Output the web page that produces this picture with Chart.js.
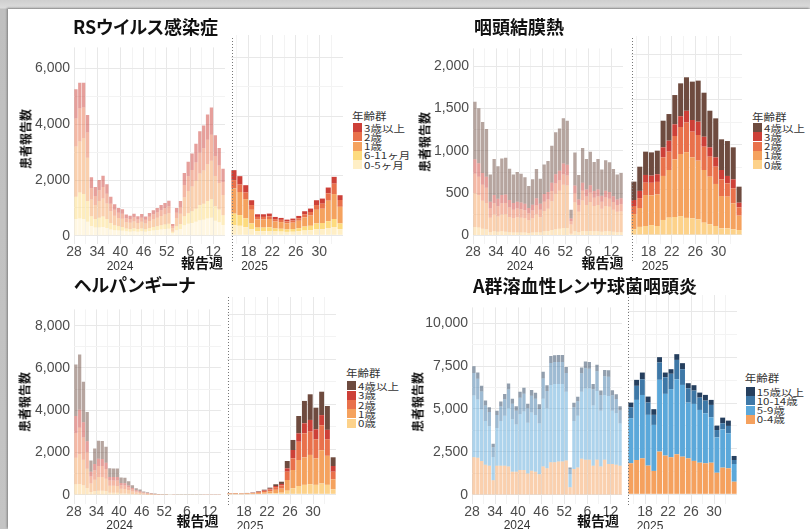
<!DOCTYPE html>
<html lang="ja">
<head>
<meta charset="utf-8">
<title>報告週別・年齢群別 患者報告数</title>
<script src="https://cdn.jsdelivr.net/npm/chart.js@4.4.1/dist/chart.umd.min.js"></script>
<style>
  html, body { margin: 0; padding: 0; }
  body { width: 810px; height: 529px; overflow: hidden; position: relative;
         background: linear-gradient(to bottom, #cfcfcf 0px, #dcdcdc 8px, #bfbfbf 9px, #c4c4c4 100%); }
  #sheet { position: absolute; left: 8px; top: 9px; right: 0; bottom: 0; background: #fff;
           box-shadow: -1px -1px 2px rgba(0,0,0,0.35); }
  canvas { position: absolute; }
  .txt { position: absolute; white-space: nowrap; line-height: 1; }
  .title { font: bold 18px "Noto Sans CJK JP", sans-serif; color: #111; font-feature-settings: "palt"; }
  .ytitle { font: bold 12px "Noto Sans CJK JP", sans-serif; color: #111; }
  .xtitle { font: bold 14px "Noto Sans CJK JP", sans-serif; color: #111; }
  .year { font: 12px "Liberation Sans", Arial, sans-serif; color: #333; }
  .lgtitle { font: 11.5px "Noto Sans CJK JP", sans-serif; color: #333; }
  .lglabel { font: 11.5px "Noto Sans CJK JP", sans-serif; color: #333; }
  .lgbox { position: absolute; width: 9px; height: 9px; }
  .vsep { position: absolute; width: 1px; z-index: 5;
          background: repeating-linear-gradient(to bottom, #777 0px, #777 1px, transparent 1px, transparent 3px); }
</style>
</head>
<body>
<div id="sheet"></div>
<script>
// ---- report weeks ----
const weeksPrev = [28,29,30,31,32,33,34,35,36,37,38,39,40,41,42,43,44,45,46,47,48,49,50,51,52,
                   1,2,3,4,5,6,7,8,9,10,11,12,13,14];
const weeksCur = [15,16,17,18,19,20,21,22,23,24,25,26,27,28,29,30,31,32,33];
const prevTickWeeks = [28,34,40,46,52,6,12];
const prevMinorWeeks = [31,37,43,49,3,9];
const curTickWeeks = [18,22,26,30];
const curMinorWeeks = [16,20,24,28,32];

// ---- RSウイルス感染症 ----
const rsGroups = ['0-5ヶ月','6-11ヶ月','1歳','2歳','3歳以上'];
const rsPrev0to5m  = [600,620,600,500,350,300,300,320,280,230,200,190,180,160,150,165,150,160,145,170,190,205,225,240,250,90,200,240,380,430,460,500,560,580,620,650,540,490,390];
const rsPrev6to11m = [800,930,900,750,350,300,350,370,320,230,180,150,140,100,95,105,90,100,90,110,125,140,155,165,180,60,140,180,320,380,420,470,540,570,630,660,520,450,350];
const rsPrev1y     = [1800,1830,2000,1550,600,500,600,650,560,420,340,300,290,230,220,240,215,240,210,250,280,300,330,355,380,125,300,370,680,800,890,1000,1130,1190,1310,1380,1080,950,720];
const rsPrev2y     = [1000,1180,1100,900,400,330,380,410,350,270,210,190,180,140,135,150,130,150,130,155,175,190,210,225,240,80,190,240,440,520,590,660,750,800,880,930,720,630,470];
const rsPrev3plus  = [1050,920,880,630,400,320,370,400,340,250,200,170,160,130,120,130,115,130,115,135,150,165,180,195,210,65,170,220,430,520,590,670,770,810,910,980,740,630,470];
const rsCur0to5m   = [340,320,270,200,140,140,145,130,125,115,120,135,160,170,200,205,245,280,210];
const rsCur6to11m  = [390,360,300,200,120,120,125,100,95,85,90,105,135,150,200,210,230,270,190];
const rsCur1y      = [850,780,650,460,270,270,280,235,225,200,215,250,310,345,460,480,690,840,560];
const rsCur2y      = [280,250,220,160,90,90,92,80,75,68,72,85,105,120,160,170,250,350,230];
const rsCur3plus   = [336,283,249,162,89,89,90,74,66,61,66,78,101,116,162,173,195,230,161];

// ---- 咽頭結膜熱 ----
const ageGroups5 = ['0歳','1歳','2歳','3歳','4歳以上'];
const pcfPrev0y    = [100,95,80,75,40,50,45,50,45,40,35,35,35,35,30,35,40,35,50,55,65,75,80,90,90,20,50,40,55,50,55,50,50,45,50,50,45,40,40];
const pcfPrev1y    = [400,380,330,310,170,200,180,200,210,180,170,180,175,170,150,170,210,180,240,260,340,420,450,510,500,110,340,240,360,310,340,300,310,270,300,290,260,240,245];
const pcfPrev2y    = [230,220,190,180,110,130,120,130,130,110,100,105,100,95,80,90,105,90,110,110,120,120,120,120,120,40,110,80,115,100,110,95,100,85,100,95,90,80,85];
const pcfPrev3y    = [170,160,140,130,80,100,90,100,100,90,80,80,80,75,65,70,85,70,90,90,100,110,115,130,125,30,90,65,95,85,90,80,85,70,80,80,70,65,70];
const pcfPrev4plus = [680,650,600,565,320,425,385,430,435,370,335,350,340,315,260,300,345,295,350,365,435,495,500,535,520,105,390,290,410,360,395,345,360,310,360,350,320,295,300];
const pcfCur0y     = [63,90,100,110,100,167,193,200,210,190,185,174,137,119,100,74,74,63,55];
const pcfCur1y     = [170,210,344,330,350,489,529,640,690,730,678,652,585,529,467,359,352,289,160];
const pcfCur2y     = [89,110,137,140,140,207,204,260,300,330,285,285,259,222,192,186,148,167,92];
const pcfCur3y     = [67,80,86,80,85,111,122,130,120,130,130,148,111,104,104,103,82,100,52];
const pcfCur4plus  = [204,269,259,258,262,296,296,325,365,372,426,456,489,407,433,341,388,355,178];

// ---- ヘルパンギーナ ----
const hpPrev0y     = [500,520,460,330,140,180,200,200,180,100,100,95,65,65,50,40,25,20,15,10,8,5,4,3,2,1,2,1,1,1,1,1,1,1,2,2,2,2,2];
const hpPrev1y     = [1250,1400,1200,900,400,540,640,640,580,330,330,330,220,215,175,125,85,70,45,35,25,17,11,8,7,3,5,5,4,4,4,4,4,5,5,6,6,5,6];
const hpPrev2y     = [1180,1250,1050,780,330,450,530,520,460,250,250,255,165,165,130,95,65,50,35,25,18,13,8,6,5,3,4,3,3,3,3,3,3,3,4,4,4,4,4];
const hpPrev3y     = [800,850,720,520,220,290,340,340,300,170,160,165,110,105,85,60,40,35,20,15,12,8,5,4,3,2,2,2,2,2,2,2,2,2,2,3,2,2,2];
const hpPrev4plus  = [2430,2620,1920,1390,540,730,850,850,750,410,410,405,260,260,200,140,95,75,50,35,27,19,12,9,8,3,5,5,5,5,4,4,5,5,5,7,6,5,6];
const hpCur0y      = [7,8,7,9,12,20,28,40,55,70,160,270,370,420,450,420,480,420,222];
const hpCur1y      = [16,17,14,19,25,42,65,95,145,180,475,810,1155,1220,1300,1180,1480,1290,445];
const hpCur2y      = [12,14,11,15,20,35,55,80,120,150,370,520,810,1070,1035,845,1110,740,338];
const hpCur3y      = [6,6,5,7,10,16,25,35,50,60,150,370,375,445,520,445,450,415,254];
const hpCur4plus   = [9,10,8,10,13,22,32,45,75,100,325,445,770,995,1140,960,1040,1060,386];

// ---- A群溶血性レンサ球菌咽頭炎 ----
const gasGroups = ['0-4歳','5-9歳','10-14歳','15歳以上'];
const gasPrev0to4   = [2190,2160,1970,1750,1700,850,1700,1700,1700,1650,1350,1350,1450,1450,1250,1400,1350,1200,1650,1550,1900,1900,1950,1950,2000,450,1500,1600,2100,2050,2050,1700,2050,1650,2050,1800,1800,1750,1700];
const gasPrev5to9   = [3600,3400,3000,2550,2300,1350,2200,2600,2900,3400,3050,2750,3250,3400,2950,3400,3300,2950,3950,3500,4500,4550,4500,4500,4000,750,2800,3000,3900,4150,4150,3500,4000,3250,3750,3950,3100,3000,2450];
const gasPrev10to14 = [1300,1200,1050,900,820,570,750,850,970,1080,900,800,960,1040,850,970,950,850,1170,1000,1280,1280,1290,1280,1100,280,800,850,1080,1170,1150,950,1150,900,1100,1130,900,830,760];
const gasPrev15plus = [400,370,340,300,280,200,250,290,310,350,290,260,340,350,260,330,350,280,400,330,400,400,400,410,350,120,260,270,340,390,390,300,380,280,370,380,290,280,250];
const gasCur0to4    = [1700,1880,1970,1570,1280,2340,2120,2030,2190,2060,1970,1830,1730,1700,1730,1180,1460,1425,690];
const gasCur5to9    = [2470,3290,3470,2780,2520,3930,3380,3730,4110,3930,3050,3120,2890,2740,2490,1940,2100,1920,970];
const gasCur10to14  = [600,770,860,675,550,950,910,840,1060,860,790,730,675,690,675,400,330,400,220];
const gasCur15plus  = [253,328,368,327,312,290,258,252,315,332,275,295,275,314,275,241,309,290,220];

// ---- palettes (youngest group first, stacked from the bottom) ----
const rsColors   = ['#FFEFC6','#FDDB7E','#F5A25E','#E9714B','#CD4038'];
const age5Colors = ['#FDD28A','#F5A25E','#E9714B','#CD4038','#6E4B3F'];
const gasColors  = ['#F5A15E','#5BA8DA','#3E78A7','#253F5E'];

const GRID_MAJOR = '#e8e8e8';
const GRID_MINOR = '#f3f3f3';
const NONE = 'rgba(0,0,0,0)';
const NUM_FONT = '"Liberation Sans", Arial, sans-serif';
const TICK_COLOR = '#4d4d4d';
const X_AXIS_H = 20;
const Y_AXIS_W = 54;

function fade(hex, a) {
  const n = parseInt(hex.slice(1), 16);
  return `rgba(${n >> 16},${(n >> 8) & 255},${n & 255},${a})`;
}

function steps(to, step) {
  const out = [];
  for (let v = 0; v <= to + 1e-9; v += step) out.push(v);
  return out;
}

const panels = [
  {
    title: 'RSウイルス感染症', titleX: 73, titleY: 26,
    groups: rsGroups, colors: rsColors,
    top: 35, plotH: 209, yMin: -293, yMax: 6751, yStep: 1000, yMajor: 2000, yTop: 6000,
    prev: { left: 74, plotW: 151, series: [rsPrev0to5m, rsPrev6to11m, rsPrev1y, rsPrev2y, rsPrev3plus] },
    cur:  { left: 231, plotW: 112, series: [rsCur0to5m, rsCur6to11m, rsCur1y, rsCur2y, rsCur3plus] },
    yTitle: [24.5, 139], sep: [232, 38, 262],
    xLabels: { y2024: [120, 266], mid: [202, 262], y2025: [254.5, 266] },
    legend: { x: 353, titleY: 116, row0: 127.7, step: 9.2 }
  },
  {
    title: '咽頭結膜熱', titleX: 474, titleY: 26,
    groups: ageGroups5, colors: age5Colors,
    top: 36, plotH: 208, yMin: -100, yMax: 2211, yStep: 250, yMajor: 500, yTop: 2000,
    prev: { left: 473, plotW: 150, series: [pcfPrev0y, pcfPrev1y, pcfPrev2y, pcfPrev3y, pcfPrev4plus] },
    cur:  { left: 631, plotW: 111, series: [pcfCur0y, pcfCur1y, pcfCur2y, pcfCur3y, pcfCur4plus] },
    yTitle: [424, 141.5], sep: [631.5, 38, 262],
    xLabels: { y2024: [520, 266], mid: [602.5, 262], y2025: [655, 266] },
    legend: { x: 753, titleY: 117, row0: 127.7, step: 9.2 }
  },
  {
    title: 'ヘルパンギーナ', titleX: 74, titleY: 284,
    groups: ageGroups5, colors: age5Colors,
    top: 297, plotH: 207, yMin: -431, yMax: 8769, yStep: 1000, yMajor: 2000, yTop: 8000,
    prev: { left: 74, plotW: 147, series: [hpPrev0y, hpPrev1y, hpPrev2y, hpPrev3y, hpPrev4plus] },
    cur:  { left: 227, plotW: 109, series: [hpCur0y, hpCur1y, hpCur2y, hpCur3y, hpCur4plus] },
    yTitle: [24, 402], sep: [228, 297, 506],
    xLabels: { y2024: [119.7, 525], mid: [197.5, 520], y2025: [250, 525.5] },
    legend: { x: 347, titleY: 373.3, row0: 385.7, step: 9.4 }
  },
  {
    title: 'A群溶血性レンサ球菌咽頭炎', titleX: 473, titleY: 284.5,
    groups: gasGroups, colors: gasColors,
    top: 295, plotH: 209, yMin: -531, yMax: 10915, yStep: 1250, yMajor: 2500, yTop: 10000,
    prev: { left: 472, plotW: 150, series: [gasPrev0to4, gasPrev5to9, gasPrev10to14, gasPrev15plus] },
    cur:  { left: 628, plotW: 109, series: [gasCur0to4, gasCur5to9, gasCur10to14, gasCur15plus] },
    yTitle: [416.5, 402], sep: [628, 297, 506],
    xLabels: { y2024: [517, 525], mid: [598, 520], y2025: [650, 525.5] },
    legend: { x: 745.7, titleY: 378.3, row0: 391.7, step: 9.2 }
  }
];

function addText(text, cls, x, y, transform) {
  const d = document.createElement('div');
  d.className = 'txt ' + cls;
  d.textContent = text;
  d.style.left = x + 'px';
  d.style.top = y + 'px';
  d.style.transform = transform;
  document.body.appendChild(d);
  return d;
}

function makeBars(p, part, weeks, tickWeeks, minorWeeks, faded, withY, labelShift) {
  const axisW = withY ? Y_AXIS_W : 0;
  const canvas = document.createElement('canvas');
  canvas.width = axisW + part.plotW;
  canvas.height = p.plotH + X_AXIS_H;
  canvas.style.left = (part.left - axisW) + 'px';
  canvas.style.top = p.top + 'px';
  document.body.appendChild(canvas);

  const majors = new Set(tickWeeks);
  const minors = new Set(minorWeeks);
  const yTicks = steps(p.yTop, p.yStep);

  new Chart(canvas, {
    type: 'bar',
    data: {
      labels: weeks.map(String),
      datasets: p.groups.map((g, k) => ({
        label: g,
        data: part.series[k],
        backgroundColor: faded ? fade(p.colors[k], 0.5) : p.colors[k],
        borderWidth: 0,
        barPercentage: 0.86,
        categoryPercentage: 1
      }))
    },
    options: {
      responsive: false,
      animation: false,
      devicePixelRatio: 1,
      layout: { padding: 0 },
      plugins: { legend: { display: false }, tooltip: { enabled: false }, title: { display: false } },
      scales: {
        x: {
          stacked: true,
          offset: true,
          border: { display: false },
          grid: {
            offset: true,
            drawTicks: false,
            lineWidth: 1,
            color: ctx => {
              if (ctx.type !== 'tick') return NONE;
              const w = weeks[ctx.index];
              return majors.has(w) ? GRID_MAJOR : (minors.has(w) ? GRID_MINOR : NONE);
            }
          },
          ticks: {
            autoSkip: false, maxRotation: 0, minRotation: 0, padding: 0,
            labelOffset: labelShift,
            color: TICK_COLOR, font: { family: NUM_FONT, size: 14 },
            callback: (v, i) => majors.has(weeks[i]) ? String(weeks[i]) : ''
          },
          afterFit: s => { s.height = X_AXIS_H; }
        },
        y: {
          stacked: true,
          min: p.yMin,
          max: p.yMax,
          border: { display: false },
          afterBuildTicks: s => { s.ticks = yTicks.map(v => ({ value: v })); },
          grid: {
            drawTicks: false,
            lineWidth: 1,
            color: ctx => (ctx.tick && ctx.tick.value % p.yMajor === 0) ? GRID_MAJOR : GRID_MINOR
          },
          ticks: {
            display: withY, padding: 4,
            color: TICK_COLOR, font: { family: NUM_FONT, size: 14 },
            callback: v => (v % p.yMajor === 0) ? v.toLocaleString('en-US') : ''
          },
          afterFit: s => { s.width = axisW; }
        }
      }
    }
  });
}

function drawLegend(p) {
  const lg = p.legend;
  addText('年齢群', 'lgtitle', lg.x - 1, lg.titleY, 'translateY(-50%) scaleY(0.85)');
  const n = p.groups.length;
  for (let r = 0; r < n; r++) {
    const k = n - 1 - r;               // oldest group on top
    const cy = lg.row0 + r * lg.step;
    const box = document.createElement('div');
    box.className = 'lgbox';
    box.style.left = lg.x + 'px';
    box.style.top = (cy - 4.5) + 'px';
    box.style.background = p.colors[k];
    document.body.appendChild(box);
    addText(p.groups[k], 'lglabel', lg.x + 11, cy, 'translateY(-50%) scaleY(0.8)');
  }
}

for (const p of panels) {
  makeBars(p, p.prev, weeksPrev, prevTickWeeks, prevMinorWeeks, true, true, -2);
  makeBars(p, p.cur, weeksCur, curTickWeeks, curMinorWeeks, false, false, -3);

  addText(p.title, 'title', p.titleX, p.titleY, 'translateY(-50%)');
  addText('患者報告数', 'ytitle', p.yTitle[0], p.yTitle[1], 'translate(-50%,-50%) rotate(-90deg)');
  addText('2024', 'year', p.xLabels.y2024[0], p.xLabels.y2024[1], 'translate(-50%,-50%)');
  addText('報告週', 'xtitle', p.xLabels.mid[0], p.xLabels.mid[1], 'translate(-50%,-50%)');
  addText('2025', 'year', p.xLabels.y2025[0], p.xLabels.y2025[1], 'translate(-50%,-50%)');

  const sep = document.createElement('div');
  sep.className = 'vsep';
  sep.style.left = Math.round(p.sep[0]) + 'px';
  sep.style.top = p.sep[1] + 'px';
  sep.style.height = (p.sep[2] - p.sep[1]) + 'px';
  document.body.appendChild(sep);

  drawLegend(p);
}
</script>
</body>
</html>
